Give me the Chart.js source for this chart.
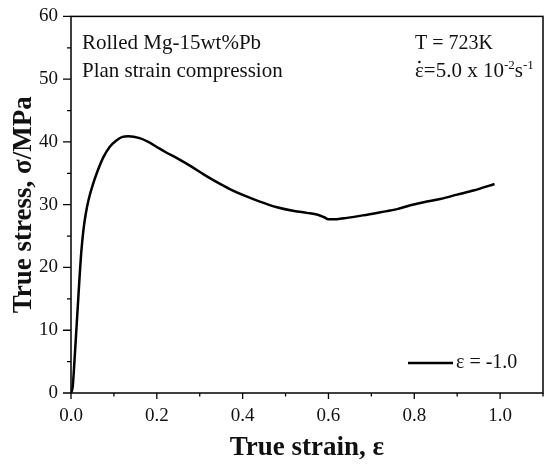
<!DOCTYPE html>
<html><head><meta charset="utf-8">
<script src="https://cdn.jsdelivr.net/npm/chart.js@4/dist/chart.umd.min.js"></script>
<style>html,body{margin:0;padding:0;background:#fff}#wrap{width:546px;height:467px;position:relative}</style>
</head><body><div id="wrap"><canvas id="c"></canvas></div>
<script>
const strain = [0, 0.004, 0.008, 0.012, 0.016, 0.02, 0.024, 0.029, 0.035, 0.041, 0.05, 0.061, 0.075, 0.09, 0.105, 0.12, 0.134, 0.16, 0.18, 0.2, 0.22, 0.25, 0.28, 0.31, 0.34, 0.37, 0.406, 0.44, 0.48, 0.52, 0.55, 0.575, 0.59, 0.6, 0.62, 0.643, 0.68, 0.721, 0.76, 0.791, 0.822, 0.86, 0.9, 0.94, 0.987];
const stress = [0, 1, 5, 9.5, 14, 18.5, 22.5, 26, 28.8, 30.8, 33, 35.2, 37.5, 39.2, 40.2, 40.8, 40.9, 40.6, 40.0, 39.2, 38.4, 37.3, 36.1, 34.8, 33.6, 32.5, 31.4, 30.5, 29.6, 29.0, 28.7, 28.4, 28.0, 27.7, 27.7, 27.9, 28.3, 28.8, 29.3, 29.9, 30.4, 30.9, 31.6, 32.3, 33.3];
const xMajor = [0, 0.2, 0.4, 0.6, 0.8, 1.0];
const xMinor = [0.1, 0.3, 0.5, 0.7, 0.9, 1.1];
const yMajor = [0, 10, 20, 30, 40, 50, 60];
const yMinor = [5, 15, 25, 35, 45, 55];
const xTitle = "True strain, ε";
const yTitle = "True stress, σ/MPa";
const noteLeft = ["Rolled Mg-15wt%Pb", "Plan strain compression"];
const noteTemp = "T = 723K";
const seriesLabel = "ε = -1.0";

const SERIF = "'Liberation Serif', 'Times New Roman', serif";

const framePlugin = {
  id: 'frame',
  afterDraw(chart) {
    const ctx = chart.ctx, a = chart.chartArea;
    const xs = chart.scales.x, ys = chart.scales.y;
    ctx.save();
    ctx.strokeStyle = '#000';
    ctx.lineWidth = 1.5;
    ctx.strokeRect(a.left, a.top, a.right - a.left, a.bottom - a.top);
    ctx.lineWidth = 1.3;
    ctx.beginPath();
    xMajor.forEach(v => { const p = xs.getPixelForValue(v); ctx.moveTo(p, a.bottom); ctx.lineTo(p, a.bottom + 6); });
    xMinor.forEach(v => { const p = xs.getPixelForValue(v); ctx.moveTo(p, a.bottom); ctx.lineTo(p, a.bottom + 3.5); });
    yMajor.forEach(v => { const p = ys.getPixelForValue(v); ctx.moveTo(a.left, p); ctx.lineTo(a.left - 8, p); });
    yMinor.forEach(v => { const p = ys.getPixelForValue(v); ctx.moveTo(a.left, p); ctx.lineTo(a.left - 4, p); });
    ctx.stroke();

    // annotations
    ctx.fillStyle = '#111';
    ctx.textBaseline = 'alphabetic';
    ctx.textAlign = 'left';
    ctx.font = '21px ' + SERIF;
    ctx.fillText(noteLeft[0], 82, 49);
    ctx.fillText(noteLeft[1], 82, 77);
    ctx.font = '20px ' + SERIF;
    ctx.fillText(noteTemp, 415, 49);
    // strain-rate line with superscripts
    let x = 415; const by = 77;
    const parts = [["ε", 0, 21], ["=5.0 x 10", 0, 21], ["-2", -8, 13], ["s", 0, 21], ["-1", -8, 13]];
    parts.forEach(([t, dy, fs], i) => {
      ctx.font = fs + 'px ' + SERIF;
      ctx.fillText(t, x, by + dy);
      if (i === 0) {
        const w = ctx.measureText(t).width;
        ctx.beginPath(); ctx.arc(x + w / 2, by - 15, 1.3, 0, Math.PI * 2); ctx.fill();
      }
      x += ctx.measureText(t).width;
    });

    // legend
    ctx.lineWidth = 2.5;
    ctx.beginPath(); ctx.moveTo(408, 363); ctx.lineTo(453, 363); ctx.stroke();
    ctx.font = '20px ' + SERIF;
    ctx.textBaseline = 'middle';
    ctx.fillText(seriesLabel, 456, 363);
    ctx.restore();
  }
};

new Chart(document.getElementById('c'), {
  type: 'line',
  data: {
    datasets: [{
      label: seriesLabel,
      data: strain.map((s, i) => ({ x: s, y: stress[i] })),
      borderColor: '#000',
      borderWidth: 2.5,
      pointRadius: 0,
      fill: false,
      cubicInterpolationMode: 'monotone'
    }]
  },
  options: {
    responsive: true,
    maintainAspectRatio: false,
    animation: false,
    devicePixelRatio: 1,
    layout: { padding: { top: 14, right: 3, left: 0, bottom: 0 } },
    plugins: { legend: { display: false }, tooltip: { enabled: false } },
    scales: {
      x: {
        type: 'linear', min: 0, max: 1.1,
        afterBuildTicks: s => { s.ticks = xMajor.map(v => ({ value: v })); },
        afterFit: s => { s.height = 74; },
        grid: { display: false }, border: { display: false },
        ticks: { color: '#111', padding: 4, maxRotation: 0, autoSkip: false, font: { family: SERIF, size: 19 }, callback: v => Number(v).toFixed(1) },
        title: { display: true, text: xTitle, color: '#111', font: { family: SERIF, size: 27, weight: 'bold' }, padding: { top: 0, bottom: 3 } }
      },
      y: {
        type: 'linear', min: 0, max: 60,
        afterBuildTicks: s => { s.ticks = yMajor.map(v => ({ value: v })); },
        afterFit: s => { s.width = 71; },
        grid: { display: false }, border: { display: false },
        ticks: { color: '#111', padding: 5, autoSkip: false, font: { family: SERIF, size: 19 }, callback: v => String(v) },
        title: { display: true, text: yTitle, color: '#111', font: { family: SERIF, size: 27, weight: 'bold' }, padding: { top: 8, bottom: 0 } }
      }
    }
  },
  plugins: [framePlugin]
});
</script>
</body></html>
